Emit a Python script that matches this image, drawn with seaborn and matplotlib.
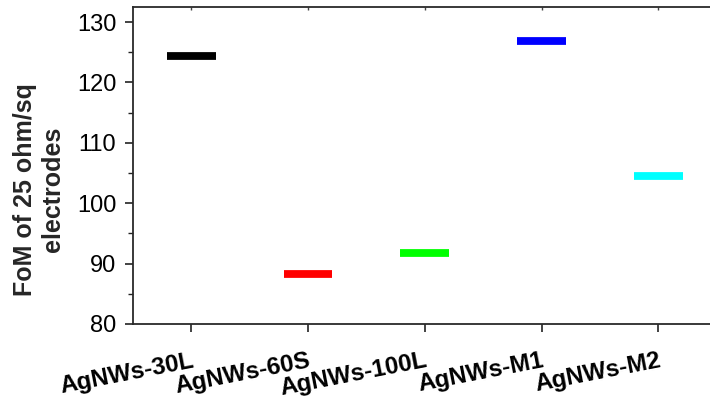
import matplotlib
matplotlib.use("Agg")
import matplotlib.pyplot as plt
import seaborn as sns
import pandas as pd
from matplotlib.ticker import MultipleLocator

categories = ["AgNWs-30L", "AgNWs-60S", "AgNWs-100L", "AgNWs-M1", "AgNWs-M2"]
fom_values = [124.4, 88.3, 91.7, 126.9, 104.5]
colors = ["#000000", "#ff0000", "#00ff00", "#0000ff", "#00ffff"]
y_ticks = [80, 90, 100, 110, 120, 130]

sns.set_style("ticks")
plt.rcParams["font.family"] = ["Liberation Sans", "DejaVu Sans"]

df = pd.DataFrame({"sample": categories, "fom": fom_values})

fig = plt.figure(figsize=(7.1, 4.01), dpi=100)
ax = fig.add_axes([133 / 710, 77 / 401, (716.6 - 133) / 710, 317 / 401])

sns.scatterplot(data=df, x="sample", y="fom", hue="sample", palette=colors,
                marker="_", s=35 ** 2, linewidth=5.6, legend=False, ax=ax)

ax.set_xlim(-0.5, len(categories) - 0.5)
ax.set_ylim(80, 132.5)
ax.set_yticks(y_ticks)
ax.yaxis.set_minor_locator(MultipleLocator(5))
ax.set_xticks(range(len(categories)))
ax.set_xticklabels(categories, rotation=11, ha="right", rotation_mode="anchor",
                   fontsize=17.5, fontweight="bold")
for lab in ax.get_yticklabels():
    lab.set_fontsize(17)

for sp in ax.spines.values():
    sp.set_visible(True)
    sp.set_linewidth(1.3)
    sp.set_color("#2a2a2a")

ax.tick_params(axis="y", which="major", direction="out", length=6, width=1.2,
               pad=6, colors="#222222", labelcolor="black")
ax.tick_params(axis="y", which="minor", direction="out", length=3.5, width=1.0,
               colors="#222222")
ax.tick_params(axis="x", which="major", direction="out", length=6, width=1.2,
               pad=12, colors="#222222", labelcolor="black", top=False)

top = ax.secondary_xaxis("top")
top.set_xticks(range(len(categories)))
top.set_xticklabels([])
top.tick_params(direction="in", length=2, width=1.0, colors="#444444")
top.spines["top"].set_visible(False)

ax.set_xlabel("")
ax.set_ylabel("FoM of 25 ohm/sq\nelectrodes", fontsize=18, fontweight="bold",
              multialignment="center")
ax.yaxis.set_label_coords(-0.1165, 0.424)

fig.savefig("out.png", dpi=100)
